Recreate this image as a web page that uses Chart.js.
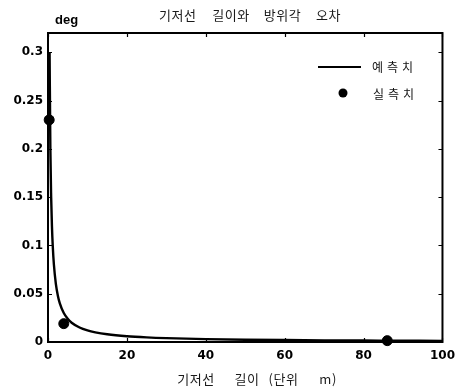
<!DOCTYPE html>
<html>
<head>
<meta charset="utf-8">
<script src="https://cdn.jsdelivr.net/npm/chart.js@4.4.1/dist/chart.umd.min.js"></script>
<style>
  html, body { margin: 0; padding: 0; background: #fff; }
  #wrap { width: 462px; height: 390px; }
</style>
</head>
<body>
<div id="wrap"><canvas id="c" width="462" height="390"></canvas></div>
<script>
// Predicted azimuth error versus baseline length
const predLength = [0.4, 0.6, 0.8, 1, 1.2, 1.5, 2, 2.5, 3, 4, 5, 6, 8, 10, 12, 15, 20, 25, 30, 40, 50, 60, 70, 80, 87, 100];
const predError  = [0.30, 0.20, 0.15, 0.12, 0.10, 0.08, 0.06, 0.048, 0.04, 0.03, 0.024, 0.02, 0.015, 0.012, 0.010, 0.008, 0.006, 0.0048, 0.004, 0.003, 0.0024, 0.002, 0.0017, 0.0015, 0.0014, 0.0012];

// Measured azimuth error
const measLength = [0.3, 4, 86];
const measError  = [0.23, 0.019, 0.0014];

const xTicks = [0, 20, 40, 60, 80, 100];
const yTicks = [0, 0.05, 0.1, 0.15, 0.2, 0.25, 0.3];

const titleWords = ['기저선', '길이와', '방위각', '오차'];
const xTitleWords = ['기저선', '길이', '(단위', 'm)'];
const yUnit = 'deg';
const seriesNames = ['예측치', '실측치'];

const KFONT = '"Noto Sans CJK KR", "Noto Sans", sans-serif';
const NFONT = '"DejaVu Sans", "Liberation Sans", sans-serif';

function toPoints(xs, ys) { return xs.map((x, i) => ({ x: x, y: ys[i] })); }

// Draw words centred on cx with given gaps between them
function drawWords(ctx, words, gaps, cx, y) {
  const widths = words.map(w => ctx.measureText(w).width);
  const total = widths.reduce((s, w) => s + w, 0) + gaps.reduce((s, g) => s + g, 0);
  let x = cx - total / 2;
  ctx.textAlign = 'left';
  words.forEach((w, i) => {
    ctx.fillText(w, x, y);
    x += widths[i] + (gaps[i] || 0);
  });
}

// Box frame, inward ticks on all four sides, title, unit and legend
const framePlugin = {
  id: 'frame',
  afterDraw(chart) {
    const ctx = chart.ctx;
    const a = chart.chartArea;
    const xs = chart.scales.x, ys = chart.scales.y;
    ctx.save();
    ctx.strokeStyle = '#000';
    ctx.lineWidth = 2;
    ctx.strokeRect(a.left, a.top, a.right - a.left, a.bottom - a.top);
    ctx.lineWidth = 1.2;
    const tl = 4;
    xTicks.forEach(v => {
      const px = Math.round(xs.getPixelForValue(v)) + 0.5;
      ctx.beginPath();
      ctx.moveTo(px, a.bottom); ctx.lineTo(px, a.bottom - tl);
      ctx.moveTo(px, a.top); ctx.lineTo(px, a.top + tl);
      ctx.stroke();
    });
    yTicks.forEach(v => {
      const py = Math.round(ys.getPixelForValue(v)) + 0.5;
      ctx.beginPath();
      ctx.moveTo(a.left, py); ctx.lineTo(a.left + tl, py);
      ctx.moveTo(a.right, py); ctx.lineTo(a.right - tl, py);
      ctx.stroke();
    });

    ctx.fillStyle = '#1a1a1a';
    ctx.font = '13px ' + KFONT;
    ctx.textBaseline = 'middle';
    if ('letterSpacing' in ctx) ctx.letterSpacing = '0.5px';
    // title
    drawWords(ctx, titleWords, [16, 14, 15], 250, 15.5);
    // x-axis title
    drawWords(ctx, xTitleWords, [20, 9, 21], 257, 379);
    if ('letterSpacing' in ctx) ctx.letterSpacing = '0px';

    // unit label
    ctx.fillStyle = '#000';
    ctx.font = 'bold 13px "Liberation Sans", Arial, sans-serif';
    ctx.textAlign = 'left';
    ctx.fillText(yUnit, 55, 20);

    // legend
    ctx.strokeStyle = '#000';
    ctx.lineWidth = 2;
    ctx.beginPath();
    ctx.moveTo(318, 67); ctx.lineTo(361, 67);
    ctx.stroke();
    ctx.beginPath();
    ctx.arc(343, 93, 4.5, 0, Math.PI * 2);
    ctx.fillStyle = '#000';
    ctx.fill();
    ctx.font = '12px ' + KFONT;
    ctx.fillStyle = '#111';
    if ('letterSpacing' in ctx) ctx.letterSpacing = '4px';
    ctx.fillText(seriesNames[0], 372, 67);
    ctx.fillText(seriesNames[1], 373, 94);
    ctx.restore();
  }
};

new Chart(document.getElementById('c'), {
  type: 'scatter',
  data: {
    datasets: [
      {
        label: seriesNames[0],
        data: toPoints(predLength, predError),
        showLine: true,
        borderColor: '#000',
        borderWidth: 2.4,
        pointRadius: 0,
        cubicInterpolationMode: 'monotone',
        order: 2
      },
      {
        label: seriesNames[1],
        data: toPoints(measLength, measError),
        showLine: false,
        backgroundColor: '#000',
        borderColor: '#000',
        pointRadius: 5,
        order: 1
      }
    ]
  },
  options: {
    responsive: false,
    animation: false,
    clip: false,
    layout: { padding: { top: 33, right: 18, left: 0, bottom: 0 } },
    plugins: { legend: { display: false }, title: { display: false }, tooltip: { enabled: false } },
    scales: {
      x: {
        type: 'linear',
        min: 0, max: 100,
        afterBuildTicks: s => { s.ticks = xTicks.map(v => ({ value: v })); },
        afterFit: s => { s.height = 48; },
        grid: { display: false, drawTicks: false },
        border: { display: false },
        ticks: { color: '#000', padding: 7, font: { family: NFONT, size: 12, weight: 'bold' }, maxRotation: 0 }
      },
      y: {
        type: 'linear',
        min: 0, max: 0.32,
        afterBuildTicks: s => { s.ticks = yTicks.map(v => ({ value: v })); },
        afterFit: s => { s.width = 48; },
        grid: { display: false, drawTicks: false },
        border: { display: false },
        ticks: { color: '#000', padding: 5, font: { family: NFONT, size: 12, weight: 'bold' }, callback: v => String(v) }
      }
    }
  },
  plugins: [framePlugin]
});
</script>
</body>
</html>
